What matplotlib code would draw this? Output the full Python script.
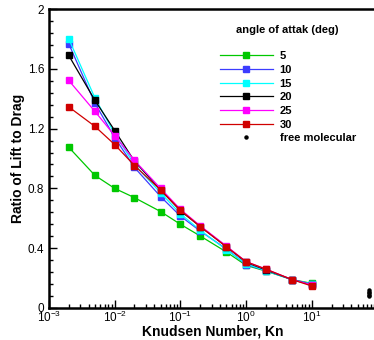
import matplotlib
matplotlib.use("Agg")
import matplotlib.pyplot as plt
from matplotlib.ticker import LogLocator, FixedLocator, MultipleLocator, NullFormatter

plt.rcParams["font.family"] = ["Liberation Sans", "DejaVu Sans"]
plt.rcParams["mathtext.default"] = "regular"

# Knudsen numbers shared by all angles
kn = [0.002, 0.005, 0.01, 0.02, 0.05, 0.1, 0.2, 0.5, 1, 2, 5, 10]

ld_5 = [1.075, 0.887, 0.80, 0.738, 0.645, 0.56, 0.482, 0.375, 0.285, 0.247, 0.19, 0.165]
ld_10 = [1.767, 1.37, 1.14, 0.94, 0.745, 0.615, 0.515, 0.395, 0.29, 0.25, 0.19, 0.16]
ld_15 = [1.80, 1.405, 1.165, 0.96, 0.77, 0.63, 0.52, 0.39, 0.295, 0.25, 0.19, 0.16]
ld_20 = [1.689, 1.389, 1.187, 0.982, 0.79, 0.65, 0.545, 0.41, 0.305, 0.255, 0.19, 0.155]
ld_25 = [1.522, 1.315, 1.153, 0.987, 0.80, 0.66, 0.55, 0.415, 0.31, 0.26, 0.19, 0.155]
ld_30 = [1.345, 1.215, 1.093, 0.953, 0.789, 0.655, 0.545, 0.41, 0.31, 0.26, 0.19, 0.147]

# free molecular limit
fm_kn = [75, 75, 75, 75, 75]
fm_ld = [0.08, 0.09, 0.10, 0.11, 0.12]

series = [
    ("5", ld_5, "#00c800"),
    ("10", ld_10, "#3c3cff"),
    ("15", ld_15, "#00ffff"),
    ("20", ld_20, "#000000"),
    ("25", ld_25, "#ff00ff"),
    ("30", ld_30, "#d00000"),
]

fig = plt.figure(figsize=(3.74, 3.40), dpi=100)
ax = fig.add_axes([49 / 374, 32 / 340, 328.5 / 374, 299 / 340])

for label, vals, color in series:
    ax.plot(kn, vals, color=color, lw=0.9, marker="s", ms=4.8,
            mec=color, mfc=color, label=label)
ax.plot(fm_kn, fm_ld, ls="none", marker="o", ms=2.2, color="black",
        label="free molecular")

ax.set_xscale("log")
ax.set_xlim(1e-3, 1e2)
ax.set_ylim(0, 2)
ax.xaxis.set_major_locator(FixedLocator([1e-3, 1e-2, 1e-1, 1e0, 1e1]))
ax.xaxis.set_minor_locator(LogLocator(base=10, subs=range(2, 10), numticks=20))
ax.xaxis.set_minor_formatter(NullFormatter())
ax.yaxis.set_minor_locator(MultipleLocator(0.08))
ax.set_yticks([0, 0.4, 0.8, 1.2, 1.6, 2.0])
ax.set_yticklabels(["0", "0.4", "0.8", "1.2", "1.6", "2"])

ax.tick_params(which="both", direction="in", labelsize=8.5, width=1)
ax.tick_params(which="major", length=6)
ax.tick_params(which="minor", length=3)
ax.tick_params(axis="x", pad=1)
for side in ("left", "bottom", "top"):
    ax.spines[side].set_linewidth(1.8)
ax.spines["right"].set_visible(False)

ax.set_xlabel("Knudsen Number, Kn", fontsize=10, fontweight="bold", labelpad=0)
ax.set_ylabel("Ratio of Lift to Drag", fontsize=10, fontweight="bold", labelpad=2)

leg = ax.legend(loc="upper left", bbox_to_anchor=(214 / 374, 1 - 19 / 340),
                bbox_transform=fig.transFigure, frameon=False,
                title="angle of attak (deg)", fontsize=8, title_fontsize=8,
                handlelength=4.8, handletextpad=0.6, labelspacing=0.33,
                borderpad=0)
leg.get_title().set_fontweight("bold")
leg._legend_box.sep = 12
for t in leg.get_texts():
    t.set_fontweight("bold")

fig.savefig("out.png", dpi=100)
